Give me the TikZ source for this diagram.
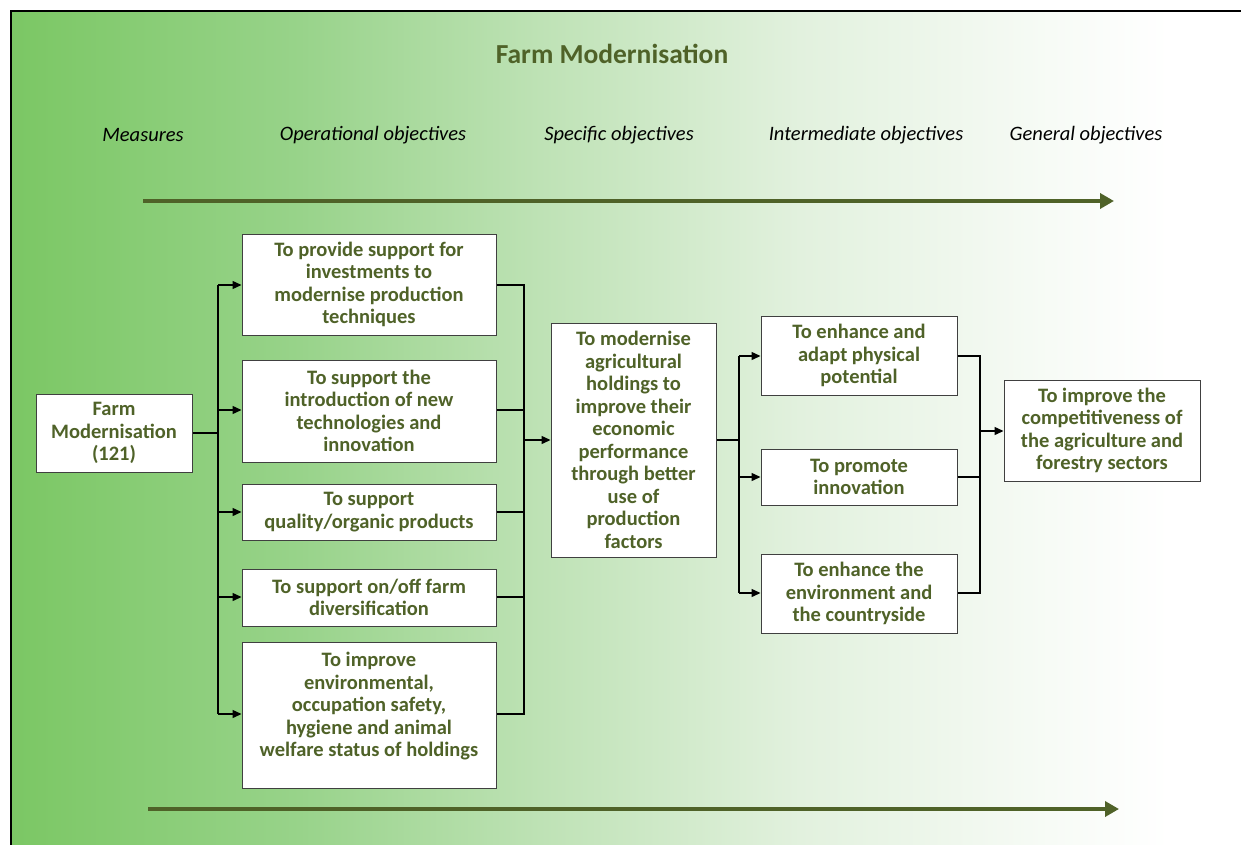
\documentclass[tikz,border=0pt]{standalone}
\usepackage{fontspec}
\setmainfont{Carlito}
\usetikzlibrary{arrows.meta}
\definecolor{olive}{HTML}{4F6228}
\definecolor{g0}{HTML}{7BC764}
\definecolor{g1}{HTML}{98D38A}
\definecolor{g2}{HTML}{BEE2B5}
\definecolor{g3}{HTML}{E2F1DE}
\definecolor{g4}{HTML}{F7FBF6}
\tikzset{
  box/.style={draw=black!75, line width=1pt, fill=white, align=center, inner sep=0pt,
    font=\fontsize{20.5}{22.5}\selectfont\bfseries, text=olive},
  hdr/.style={font=\fontsize{20.5}{24}\selectfont\itshape, text=black},
  conn/.style={line width=1.4pt, draw=black},
  arr/.style={conn, -{Triangle[length=9pt,width=8pt]}},
  bigarr/.style={line width=4pt, draw=olive, -{Triangle[length=14pt,width=15pt]}}
}
\begin{document}
\begin{tikzpicture}[x=1pt,y=-1pt]
\useasboundingbox (0,0) rectangle (1241,845);
% background gradient
\shade[left color=g0, right color=g1, draw=none] (11,11) rectangle (300,845);
\shade[left color=g1, right color=g2, draw=none] (299.5,11) rectangle (540,845);
\shade[left color=g2, right color=g3, draw=none] (539.5,11) rectangle (800,845);
\shade[left color=g3, right color=g4, draw=none] (799.5,11) rectangle (1050,845);
\shade[left color=g4, right color=white, draw=none] (1049.5,11) rectangle (1170,845);
\draw[line width=2pt, black] (11,846) -- (11,11) -- (1242,11);

% title and headers
\node[font=\fontsize{27.5}{32}\selectfont\bfseries, text=olive] (title) at (612,54) {Farm Modernisation};
\node[hdr] (h1) at (143,135) {Measures};
\node[hdr] (h2) at (373,135) {Operational objectives};
\node[hdr] (h3) at (619,135) {Specific objectives};
\node[hdr] (h4) at (866,135) {Intermediate objectives};
\node[hdr] (h5) at (1086,135) {General objectives};

\coordinate (ta) at (143,201);
\coordinate (tb) at (1114,201);
\draw[bigarr] (ta) -- (tb);
\coordinate (ba) at (148,809);
\coordinate (bb) at (1119,809);
\draw[bigarr] (ba) -- (bb);

% boxes
\node[box, minimum width=156pt, minimum height=78pt] (m) at (114,433) {Farm\\Modernisation\\(121)};
\node[box, minimum width=254pt, minimum height=101pt] (o1) at (369,284.5) {To provide support for\\investments to\\modernise production\\techniques};
\node[box, minimum width=254pt, minimum height=102pt] (o2) at (369,411) {To support the\\introduction of new\\technologies and\\innovation};
\node[box, minimum width=254pt, minimum height=56pt] (o3) at (369,512) {To support\\quality/organic products};
\node[box, minimum width=254pt, minimum height=57pt] (o4) at (369,597.5) {To support on/off farm\\diversification};
\node[box, minimum width=254pt, minimum height=146pt] (o5) at (369,715) {To improve\\environmental,\\occupation safety,\\hygiene and animal\\welfare status of holdings\\[-1.5pt]};
\node[box, minimum width=165pt, minimum height=234pt] (s) at (633.5,440) {To modernise\\agricultural\\holdings to\\improve their\\economic\\performance\\through better\\use of\\production\\factors};
\node[box, minimum width=196pt, minimum height=79pt] (i1) at (859,355.5) {To enhance and\\adapt physical\\potential};
\node[box, minimum width=196pt, minimum height=56pt] (i2) at (859,477) {To promote\\innovation};
\node[box, minimum width=196pt, minimum height=79pt] (i3) at (859,593.5) {To enhance the\\environment and\\the countryside};
\node[box, minimum width=196pt, minimum height=101pt] (g) at (1102,430.5) {To improve the\\competitiveness of\\the agriculture and\\forestry sectors};

% measure -> operational
\coordinate (b1) at (218,433);
\coordinate (b1t) at (218,285);
\coordinate (b1b) at (218,714);
\draw[line width=2pt] (m.east) -- (b1);
\draw[conn] (b1t) -- (b1b);
\draw[arr] (b1t) -- (o1.west |- b1t);
\draw[arr] (218,410) -- (o2.west |- 0,410);
\draw[arr] (218,512) -- (o3.west);
\draw[arr] (218,597) -- (o4.west |- 0,597);
\draw[arr] (b1b) -- (o5.west |- b1b);

% operational -> specific
\coordinate (b2t) at (524,285);
\coordinate (b2b) at (524,714);
\draw[conn] (o1.east |- b2t) -- (b2t) -- (b2b) -- (o5.east |- b2b);
\draw[conn] (o2.east |- 0,410) -- (524,410);
\draw[conn] (o3.east) -- (524,512);
\draw[conn] (o4.east |- 0,597) -- (524,597);
\draw[arr] (524,440) -- (s.west);

% specific -> intermediate
\coordinate (b3t) at (739,356);
\coordinate (b3b) at (739,593);
\draw[conn] (s.east) -- (739,440);
\draw[conn] (b3t) -- (b3b);
\draw[arr] (b3t) -- (i1.west |- b3t);
\draw[arr] (739,477) -- (i2.west);
\draw[arr] (b3b) -- (i3.west |- b3b);

% intermediate -> general
\coordinate (b4t) at (980,356);
\coordinate (b4b) at (980,593);
\draw[conn] (i1.east |- b4t) -- (b4t) -- (b4b) -- (i3.east |- b4b);
\draw[conn] (i2.east) -- (980,477);
\draw[arr] (980,431) -- (g.west |- 0,431);
\end{tikzpicture}
\end{document}
